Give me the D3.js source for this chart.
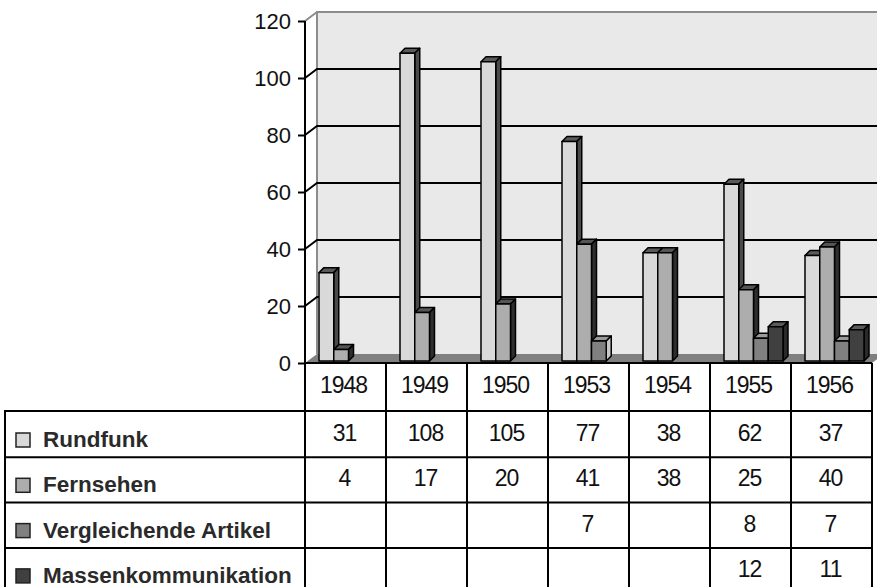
<!DOCTYPE html>
<html>
<head>
<meta charset="utf-8">
<script src="https://cdn.jsdelivr.net/npm/d3@7"></script>
<style>
    body { margin: 0; background: #fff; }
    text { font-family: "Liberation Sans", Arial, Helvetica, sans-serif; }
</style>
</head>
<body>
<div id="chart"></div>
<script>

// data
const years = ["1948", "1949", "1950", "1953", "1954", "1955", "1956"];
const seriesNames = ["Rundfunk", "Fernsehen", "Vergleichende Artikel", "Massenkommunikation"];
const rundfunk = [31, 108, 105, 77, 38, 62, 37];
const fernsehen = [4, 17, 20, 41, 38, 25, 40];
const vergleichende = [null, null, null, 7, null, 8, 7];
const massen = [null, null, null, null, null, 12, 11];
const yTicks = [0, 20, 40, 60, 80, 100, 120];


class BarChart3D {

    constructor(parentElement) {
        this.parentElement = parentElement;
        this.initVis();
    }

    initVis() {
        let vis = this;

        vis.width = 877;
        vis.height = 587;

        vis.svg = d3.select("#" + vis.parentElement).append("svg")
            .attr("width", vis.width)
            .attr("height", vis.height);

        // look of each series: front, top, side
        vis.fronts = ["#d9d9d9", "#adadad", "#808080", "#404040"];
        vis.tops = ["#5a5a5a", "#555555", "#9a9a9a", "#5a5a5a"];
        vis.sides = ["#4a4a4a", "#2e2e2e", "#c8c8c8", "#2a2a2a"];

        // wall depth offset and bar depth offset
        vis.wallDx = 12;
        vis.wallDy = -9;
        vis.barD = 5;

        // scales
        vis.x = d3.scaleBand()
            .domain(years)
            .range([305, 872])
            .padding(0);

        vis.xs = d3.scaleBand()
            .domain(seriesNames)
            .range([14, 73])
            .padding(0);

        vis.y = d3.scaleLinear()
            .domain([0, 120])
            .range([363, 21]);

        vis.yAxis = d3.axisLeft(vis.y)
            .tickValues(yTicks)
            .tickSize(7)
            .tickPadding(7);

        vis.wrangleData();
    }

    wrangleData() {
        let vis = this;
        let cols = [rundfunk, fernsehen, vergleichende, massen];

        vis.displayData = [];
        years.forEach(function (yr, i) {
            seriesNames.forEach(function (s, j) {
                if (cols[j][i] !== null) {
                    vis.displayData.push({year: yr, series: s, idx: j, value: cols[j][i]});
                }
            });
        });

        vis.tableRows = seriesNames.map((s, j) => ({name: s, idx: j, values: cols[j]}));

        vis.updateVis();
    }

    updateVis() {
        let vis = this;
        let x0 = vis.x.range()[0], x1 = vis.x.range()[1];
        let dx = vis.wallDx, dy = vis.wallDy;
        let y0 = vis.y(0);

        // back wall
        vis.svg.append("rect")
            .attr("x", x0 + dx)
            .attr("y", vis.y(120) + dy)
            .attr("width", vis.width - x0)
            .attr("height", y0 - vis.y(120))
            .attr("fill", "#e9e9e9");

        vis.svg.append("path")
            .attr("d", `M${x0 + dx},${y0 + dy}V${vis.y(120) + dy}H${vis.width + 10}`)
            .attr("fill", "none")
            .attr("stroke", "#8c8c8c")
            .attr("stroke-width", 2);

        // gridlines on the wall
        vis.svg.selectAll(".grid")
            .data(yTicks.filter(d => d > 0 && d < 120))
            .enter().append("path")
            .attr("class", "grid")
            .attr("d", d => `M${x0},${vis.y(d)}L${x0 + dx},${vis.y(d) + dy}H${vis.width + 10}`)
            .attr("fill", "none")
            .attr("stroke", "#000")
            .attr("stroke-width", 2);

        vis.svg.append("path")
            .attr("d", `M${x0},${vis.y(120)}L${x0 + dx},${vis.y(120) + dy}`)
            .attr("stroke", "#8c8c8c")
            .attr("stroke-width", 2);

        // floor
        vis.svg.append("path")
            .attr("d", `M${x0},${y0}L${x0 + dx},${y0 + dy}H${x1 + dx}L${x1},${y0}Z`)
            .attr("fill", "#808080");

        // bars
        let yb = v => vis.y(v) - 2;
        let d = vis.barD;
        let w = vis.xs.bandwidth();

        let bars = vis.svg.selectAll(".bar")
            .data(vis.displayData)
            .enter().append("g")
            .attr("class", "bar")
            .attr("stroke", "#000")
            .attr("stroke-width", 1.5)
            .attr("stroke-linejoin", "round");

        bars.append("path")
            .attr("fill", b => vis.tops[b.idx])
            .attr("d", function (b) {
                let bx = vis.x(b.year) + vis.xs(b.series), t = yb(b.value);
                return `M${bx},${t}L${bx + d},${t - d}H${bx + w + d}L${bx + w},${t}Z`;
            });

        bars.append("path")
            .attr("fill", b => vis.sides[b.idx])
            .attr("d", function (b) {
                let bx = vis.x(b.year) + vis.xs(b.series), t = yb(b.value), bt = yb(0);
                return `M${bx + w},${t}L${bx + w + d},${t - d}V${bt - d}L${bx + w},${bt}Z`;
            });

        bars.append("rect")
            .attr("fill", b => vis.fronts[b.idx])
            .attr("x", b => vis.x(b.year) + vis.xs(b.series))
            .attr("y", b => yb(b.value))
            .attr("width", w)
            .attr("height", b => yb(0) - yb(b.value));

        // y axis
        vis.yAxisGroup = vis.svg.append("g")
            .attr("class", "y-axis axis")
            .attr("transform", `translate(${x0}, 0)`)
            .call(vis.yAxis);

        vis.yAxisGroup.select(".domain").remove();
        vis.yAxisGroup.selectAll("line")
            .attr("stroke", "#000")
            .attr("stroke-width", 2);
        vis.yAxisGroup.selectAll("text")
            .attr("font-size", 22)
            .attr("font-family", "Liberation Sans, Arial, sans-serif")
            .attr("fill", "#111");

        vis.svg.append("line")
            .attr("x1", x0).attr("x2", x0)
            .attr("y1", vis.y(120)).attr("y2", 600)
            .attr("stroke", "#000")
            .attr("stroke-width", 2);

        // floor front edge
        vis.svg.append("line")
            .attr("x1", x0).attr("x2", x1)
            .attr("y1", y0).attr("y2", y0)
            .attr("stroke", "#000")
            .attr("stroke-width", 2);

        // data table
        let headTop = y0, headBot = 410;
        let rowTop = 412, rowH = 45.3;
        let tableBot = 600;

        vis.svg.selectAll(".col-line")
            .data(d3.range(1, years.length + 1))
            .enter().append("line")
            .attr("class", "col-line")
            .attr("x1", i => x0 + i * vis.x.bandwidth())
            .attr("x2", i => x0 + i * vis.x.bandwidth())
            .attr("y1", headTop)
            .attr("y2", tableBot)
            .attr("stroke", "#000")
            .attr("stroke-width", 2);

        vis.svg.append("line")
            .attr("x1", 5).attr("x2", 5)
            .attr("y1", headBot).attr("y2", tableBot)
            .attr("stroke", "#000")
            .attr("stroke-width", 2);

        vis.svg.selectAll(".row-line")
            .data(d3.range(0, 4))
            .enter().append("line")
            .attr("class", "row-line")
            .attr("x1", 5)
            .attr("x2", x1)
            .attr("y1", i => i === 0 ? 411 : rowTop + i * rowH)
            .attr("y2", i => i === 0 ? 411 : rowTop + i * rowH)
            .attr("stroke", "#000")
            .attr("stroke-width", 2);

        vis.svg.selectAll(".year-label")
            .data(years)
            .enter().append("text")
            .attr("class", "year-label")
            .attr("x", yr => vis.x(yr) + vis.x.bandwidth() / 2 - 2)
            .attr("y", (headTop + headBot) / 2 + 6)
            .attr("text-anchor", "middle")
            .attr("font-size", 23)
            .attr("letter-spacing", -1)
            .attr("fill", "#111")
            .text(yr => yr);

        let rows = vis.svg.selectAll(".table-row")
            .data(vis.tableRows)
            .enter().append("g")
            .attr("class", "table-row")
            .attr("transform", r => `translate(0, ${rowTop + r.idx * rowH})`);

        rows.append("rect")
            .attr("x", 16)
            .attr("y", 21)
            .attr("width", 14)
            .attr("height", 14)
            .attr("fill", r => vis.fronts[r.idx])
            .attr("stroke", "#222")
            .attr("stroke-width", 1.5);

        rows.append("text")
            .attr("x", 43)
            .attr("y", 35)
            .attr("font-size", 22.5)
            .attr("font-weight", "bold")
            .attr("fill", "#2a2a2a")
            .text(r => r.name);

        rows.selectAll(".cell")
            .data(r => r.values.map((v, i) => ({year: years[i], value: v})).filter(c => c.value !== null))
            .enter().append("text")
            .attr("class", "cell")
            .attr("x", c => vis.x(c.year) + vis.x.bandwidth() / 2 - 1)
            .attr("y", rowH / 2 + 6.5)
            .attr("text-anchor", "middle")
            .attr("font-size", 23)
            .attr("letter-spacing", -1)
            .attr("fill", "#111")
            .text(c => c.value);
    }
}

new BarChart3D("chart");

</script>
</body>
</html>
